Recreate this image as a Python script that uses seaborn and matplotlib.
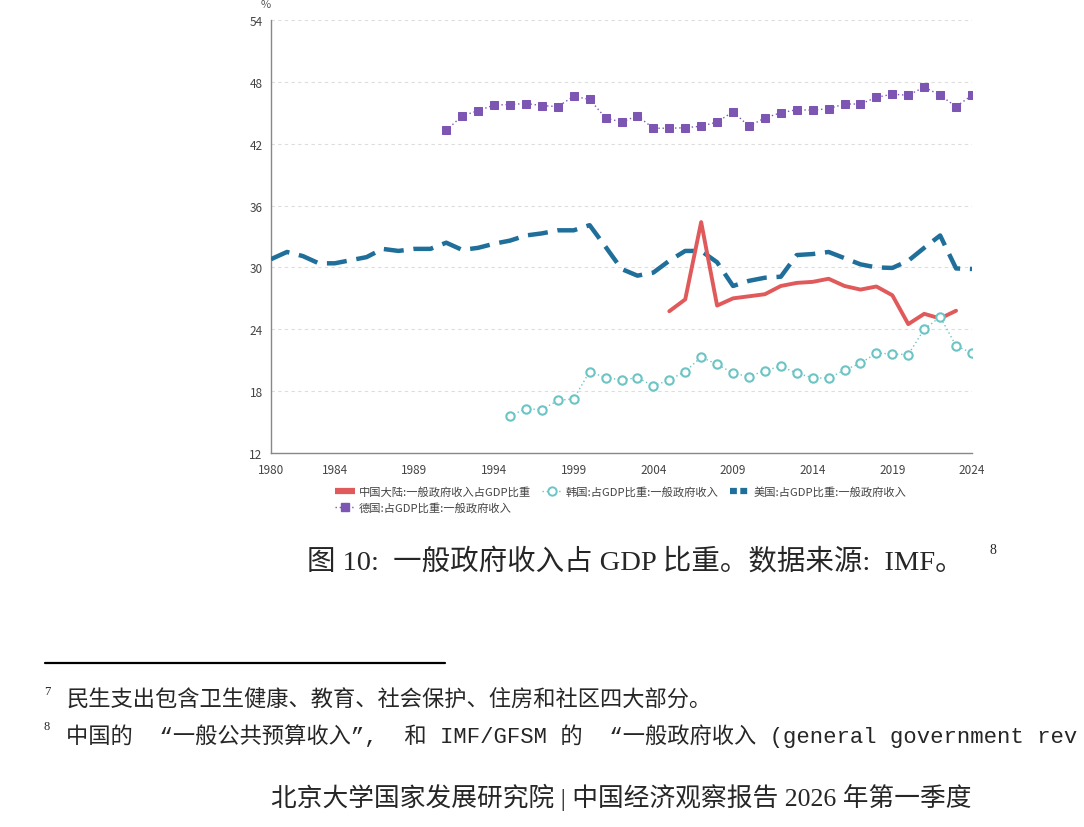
import matplotlib
matplotlib.use("Agg")
import pandas as pd
import seaborn as sns
import matplotlib.pyplot as plt
from matplotlib.lines import Line2D

# data (% of GDP)
years_cn = list(range(2005, 2024))
china = [25.75, 26.9, 34.4, 26.3, 27.0, 27.2, 27.4, 28.2, 28.5, 28.6, 28.9,
         28.2, 27.85, 28.15, 27.3, 24.5, 25.5, 25.05, 25.8]

years_kr = list(range(1995, 2025))
korea = [15.6, 16.3, 16.2, 17.1, 17.25, 19.9, 19.3, 19.1, 19.3, 18.5, 19.1,
         19.9, 21.3, 20.6, 19.75, 19.4, 20.0, 20.4, 19.75, 19.3, 19.25, 20.05,
         20.7, 21.7, 21.6, 21.55, 24.0, 25.2, 22.4, 21.7]

years_us = list(range(1980, 2025))
usa = [30.8, 31.5, 31.1, 30.4, 30.4, 30.7, 31.0, 31.8, 31.6, 31.8, 31.8,
       32.4, 31.7, 31.9, 32.3, 32.6, 33.1, 33.3, 33.6, 33.6, 34.1, 32.0,
       29.85, 29.2, 29.5, 30.65, 31.6, 31.6, 30.5, 28.2, 28.7, 29.0, 29.1,
       31.2, 31.3, 31.5, 30.9, 30.3, 30.0, 29.95, 30.65, 31.9, 33.1, 29.9, 29.85]

years_de = list(range(1991, 2025))
germany = [43.3, 44.7, 45.2, 45.75, 45.8, 45.9, 45.7, 45.6, 46.6, 46.3, 44.5,
           44.1, 44.7, 43.5, 43.5, 43.55, 43.7, 44.1, 45.1, 43.7, 44.5, 45.0,
           45.3, 45.25, 45.4, 45.85, 45.85, 46.5, 46.8, 46.7, 47.5, 46.7, 45.6, 46.7]

labels = ["中国大陆:一般政府收入占GDP比重", "韩国:占GDP比重:一般政府收入",
          "美国:占GDP比重:一般政府收入", "德国:占GDP比重:一般政府收入"]
xticks = [1980, 1984, 1989, 1994, 1999, 2004, 2009, 2014, 2019, 2024]
yticks = [12, 18, 24, 30, 36, 42, 48, 54]

c_cn = "#e05a5b"
c_kr = "#6cc4c4"
c_us = "#1f6f9a"
c_de = "#7d55b3"

sns.set_style("white")
plt.rcParams["font.family"] = ["Noto Sans CJK SC", "DejaVu Sans"]

fig = plt.figure(figsize=(10.84, 8.28), dpi=100)
ax = fig.add_axes([271 / 1084, 1 - 454 / 828, 701 / 1084, 433 / 828])

df_us = pd.DataFrame({"year": years_us, "value": usa})
df_cn = pd.DataFrame({"year": years_cn, "value": china})
df_kr = pd.DataFrame({"year": years_kr, "value": korea})
df_de = pd.DataFrame({"year": years_de, "value": germany})

sns.lineplot(data=df_us, x="year", y="value", ax=ax, color=c_us, lw=3.2,
             linestyle=(0, (4.5, 2.2)), zorder=3)
sns.lineplot(data=df_cn, x="year", y="value", ax=ax, color=c_cn, lw=2.8, zorder=4)
sns.lineplot(data=df_kr, x="year", y="value", ax=ax, color=c_kr, lw=1.0,
             linestyle=(0, (1, 2)), marker="o", markersize=6,
             markerfacecolor="white", markeredgecolor=c_kr, markeredgewidth=1.5, zorder=5)
sns.lineplot(data=df_de, x="year", y="value", ax=ax, color=c_de, lw=1.0,
             linestyle=(0, (1, 2)), marker="s", markersize=5.5,
             markerfacecolor=c_de, markeredgecolor=c_de, zorder=5)

ax.set_xlim(1980, 2024)
ax.set_ylim(12, 54)
ax.set_xticks(xticks)
ax.set_yticks(yticks)
ax.set_xlabel("")
ax.set_ylabel("")
ax.grid(axis="y", color="#dddddd", linestyle=(0, (3, 3)), lw=0.8)
ax.grid(axis="x", visible=False)
for side in ["top", "right"]:
    ax.spines[side].set_visible(False)
for side in ["left", "bottom"]:
    ax.spines[side].set_color("#888888")
    ax.spines[side].set_linewidth(1.0)
ax.tick_params(axis="both", length=5, width=0.8, color="#888888",
               labelsize=8.5, labelcolor="#444444", pad=1)
ax.tick_params(axis="x", pad=2)
ax.text(0.0, 1.025, "%", transform=ax.transAxes, fontsize=8,
        color="#555555", ha="right", va="bottom")

handles = [
    Line2D([], [], color=c_cn, lw=4.5, solid_capstyle="butt"),
    Line2D([], [], color=c_de, lw=1.0, linestyle=(0, (1, 2)), marker="s",
           markersize=5.5, markerfacecolor=c_de, markeredgecolor=c_de),
    Line2D([], [], color=c_kr, lw=1.0, linestyle=(0, (1, 2)), marker="o",
           markersize=6, markerfacecolor="white", markeredgecolor=c_kr,
           markeredgewidth=1.4),
    Line2D([], [], color=c_us, lw=4.5, linestyle=(0, (1.1, 0.55))),
]
fig.legend(handles, [labels[0], labels[3], labels[1], labels[2]], ncol=3,
           loc="upper center", bbox_to_anchor=(621 / 1084, 1 - 477 / 828),
           frameon=False, fontsize=8.1, handlelength=1.7, handletextpad=0.4,
           columnspacing=1.0, labelspacing=0.45, labelcolor="#444444")

# caption, footnotes and page footer
cap = fig.text(307 / 1084, 1 - 563 / 828, "图 10:  一般政府收入占 GDP 比重。数据来源:  IMF。",
               family=["Liberation Serif", "Noto Sans CJK SC"], fontsize=20.5,
               va="center", ha="left")
fig.text(993 / 1084, 1 - 551 / 828, "8", family=["Liberation Serif"],
         fontsize=10, va="center", ha="center")

fig.add_artist(Line2D([45 / 1084, 445 / 1084], [1 - 664 / 828] * 2,
                      color="black", lw=1.6))

fig.text(47 / 1084, 1 - 692 / 828, "7", family=["Liberation Serif"],
         fontsize=9, va="center", ha="center")
fig.text(66 / 1084, 1 - 700 / 828, "民生支出包含卫生健康、教育、社会保护、住房和社区四大部分。",
         family=["Liberation Mono", "Noto Sans CJK SC"], fontsize=16,
         va="center", ha="left")
fig.text(47 / 1084, 1 - 727 / 828, "8", family=["Liberation Serif"],
         fontsize=9, va="center", ha="center")
fig.text(66 / 1084, 1 - 736 / 828,
         "中国的  “一般公共预算收入”,  和 IMF/GFSM 的  “一般政府收入 (general government rev",
         family=["Liberation Mono", "Noto Sans CJK SC"], fontsize=16,
         va="center", ha="left")

fig.text(621 / 1084, 1 - 797 / 828,
         "北京大学国家发展研究院 | 中国经济观察报告 2026 年第一季度",
         family=["Liberation Serif", "Noto Sans CJK SC"], fontsize=18.5,
         va="center", ha="center")

fig.savefig("out.png", dpi=100)
